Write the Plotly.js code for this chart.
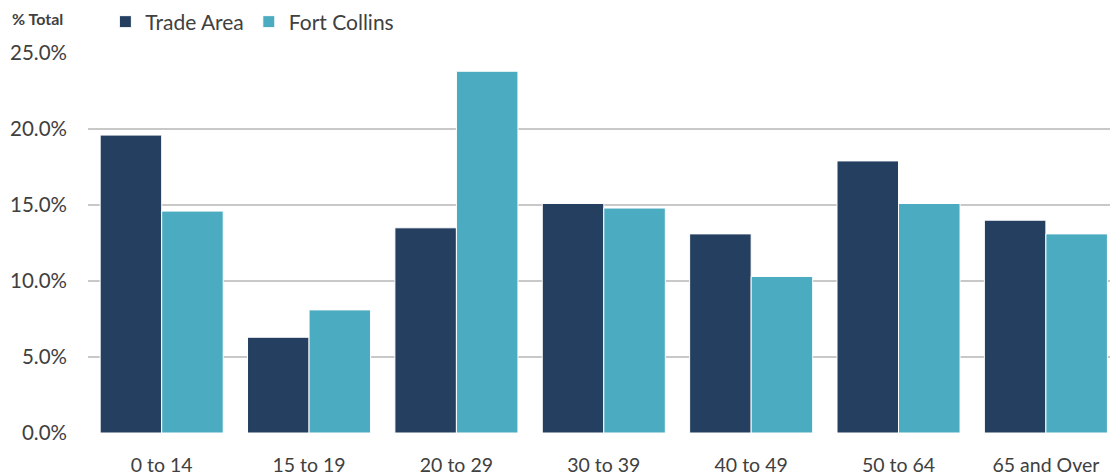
<!DOCTYPE html>
<html>
<head>
<meta charset="utf-8">
<script src="https://cdn.plot.ly/plotly-3.0.1.min.js"></script>
<style>html,body{margin:0;padding:0;background:#fff;}#chart{width:1110px;height:476px;}</style>
</head>
<body>
<div id="chart"></div>
<script>
const categories = ['0 to 14', '15 to 19', '20 to 29', '30 to 39', '40 to 49', '50 to 64', '65 and Over'];
const tradeArea = [19.6, 6.3, 13.5, 15.1, 13.1, 17.9, 14.0];
const fortCollins = [14.6, 8.1, 23.8, 14.8, 10.3, 15.1, 13.1];
const yTicks = [0, 5, 10, 15, 20, 25];
const yTickLabels = yTicks.map(v => v.toFixed(1) + '%');

const fontFamily = 'Lato, "Open Sans", sans-serif';
const textColor = '#404040';

const traces = [
  {type: 'bar', name: 'Trade Area', x: categories, y: tradeArea,
   marker: {color: '#253F60', line: {color: '#ffffff', width: 1}}},
  {type: 'bar', name: 'Fort Collins', x: categories, y: fortCollins,
   marker: {color: '#4BABC1', line: {color: '#ffffff', width: 1}}}
];

const layout = {
  width: 1110, height: 476,
  margin: {l: 88, r: 0, t: 53, b: 43, pad: 0},
  paper_bgcolor: '#ffffff', plot_bgcolor: '#ffffff',
  font: {family: fontFamily, color: textColor, size: 18},
  barmode: 'group', bargap: 0.165, bargroupgap: 0,
  title: {text: '<b>% Total</b>', x: 12/1110, xanchor: 'left', xref: 'container',
          y: 1 - 19/476, yanchor: 'middle', yref: 'container',
          font: {family: fontFamily, size: 16, color: textColor}},
  showlegend: true,
  legend: {orientation: 'h', x: 0.017, xanchor: 'left', y: 1.0816, yanchor: 'middle',
           font: {family: fontFamily, size: 21, color: textColor},
           itemwidth: 30, tracegroupgap: 0, bgcolor: 'rgba(0,0,0,0)'},
  xaxis: {type: 'category', range: [-0.5, 6.435], showgrid: false, zeroline: false,
          showline: false, ticks: '', ticklabelstandoff: 18,
          tickfont: {family: fontFamily, size: 19.5, color: textColor}, fixedrange: true},
  yaxis: {range: [0, 25], tickvals: yTicks, ticktext: yTickLabels,
          showgrid: true, gridcolor: '#c8c8c8', gridwidth: 1.5, zeroline: false,
          showline: false, ticks: '', ticklabelstandoff: 20,
          tickfont: {family: fontFamily, size: 20.5, color: textColor}, fixedrange: true}
};

Plotly.newPlot('chart', traces, layout, {displayModeBar: false, staticPlot: true});
</script>
</body>
</html>
